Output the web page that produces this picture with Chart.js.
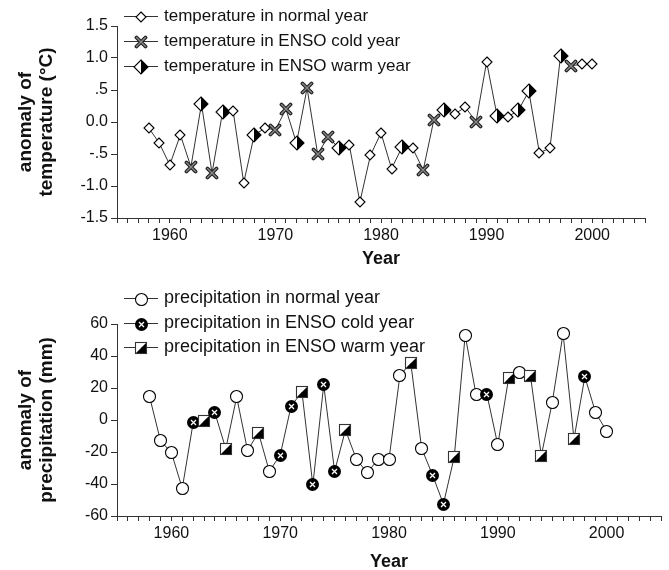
<!DOCTYPE html>
<html>
<head>
<meta charset="utf-8">
<script src="https://cdn.jsdelivr.net/npm/chart.js@4.4.0/dist/chart.umd.min.js"></script>
<style>
  body { margin: 0; background: #fff; }
  canvas { display: block; }
</style>
</head>
<body>
<canvas id="tempChart" width="669" height="270"></canvas>
<canvas id="precChart" width="669" height="300"></canvas>
<script>
// years and ENSO class of each year: n = normal, c = ENSO cold, w = ENSO warm
let years = [1958, 1959, 1960, 1961, 1962, 1963, 1964, 1965, 1966, 1967,
             1968, 1969, 1970, 1971, 1972, 1973, 1974, 1975, 1976, 1977,
             1978, 1979, 1980, 1981, 1982, 1983, 1984, 1985, 1986, 1987,
             1988, 1989, 1990, 1991, 1992, 1993, 1994, 1995, 1996, 1997,
             1998, 1999, 2000];
let ensoType = ['n', 'n', 'n', 'n', 'c', 'w', 'c', 'w', 'n', 'n',
                'w', 'n', 'c', 'c', 'w', 'c', 'c', 'c', 'w', 'n',
                'n', 'n', 'n', 'n', 'w', 'n', 'c', 'c', 'w', 'n',
                'n', 'c', 'n', 'w', 'n', 'w', 'w', 'n', 'n', 'w',
                'c', 'n', 'n'];

// temperature anomaly (°C)
let tempAnomaly = [-0.09, -0.33, -0.67, -0.20, -0.70, 0.28, -0.80, 0.16, 0.17, -0.95,
                   -0.20, -0.10, -0.12, 0.20, -0.33, 0.53, -0.50, -0.23, -0.41, -0.36,
                   -1.25, -0.52, -0.17, -0.73, -0.39, -0.41, -0.75, 0.03, 0.19, 0.13,
                   0.23, 0.00, 0.94, 0.09, 0.08, 0.18, 0.48, -0.48, -0.41, 1.03,
                   0.88, 0.90, 0.90];

// precipitation anomaly (mm)
let precAnomaly = [14.4, -13, -20.4, -42.7, -1.7, -0.6, 4.4, -18, 14.4, -19,
                   -8, -32, -22, 8.7, 17.5, -40.6, 21.9, -32, -6.3, -24.5,
                   -33, -24.5, -24.5, 27.7, 35.8, -17.7, -34.4, -52.5, -23, 53,
                   16, 16, -15.6, 26.5, 30, 27.7, -22.3, 10.8, 54, -11.9,
                   27, 4.4, -6.9];

let tempTicks = { '1.5': '1.5', '1': '1.0', '0.5': '.5', '0': '0.0', '-0.5': '-.5', '-1': '-1.0', '-1.5': '-1.5' };

let tempLegend = ['temperature in normal year', 'temperature in ENSO cold year', 'temperature in ENSO warm year'];
let precLegend = ['precipitation in normal year', 'precipitation in ENSO cold year', 'precipitation in ENSO warm year'];

Chart.defaults.font.family = '"Liberation Sans", Arial, sans-serif';
Chart.defaults.color = '#111';

function makeMarker(size, draw) {
    let c = document.createElement('canvas');
    c.width = size;
    c.height = size;
    let g = c.getContext('2d');
    draw(g, size / 2);
    return c;
}

// temperature markers
let diamondOpen = makeMarker(12, (g, m) => {
    g.beginPath();
    g.moveTo(m, m - 5); g.lineTo(m + 5, m); g.lineTo(m, m + 5); g.lineTo(m - 5, m); g.closePath();
    g.fillStyle = '#fff'; g.fill();
    g.strokeStyle = '#000'; g.lineWidth = 1.1; g.stroke();
});
let crossMark = makeMarker(14, (g, m) => {
    g.lineCap = 'round';
    g.beginPath();
    g.moveTo(m - 4.5, m - 4.5); g.lineTo(m + 4.5, m + 4.5);
    g.moveTo(m + 4.5, m - 4.5); g.lineTo(m - 4.5, m + 4.5);
    g.strokeStyle = '#222'; g.lineWidth = 3.8; g.stroke();
    g.strokeStyle = '#8a8a8a'; g.lineWidth = 1.4; g.stroke();
});
let diamondHalf = makeMarker(16, (g, m) => {
    let r = 7;
    g.beginPath();
    g.moveTo(m, m - r); g.lineTo(m, m + r); g.lineTo(m - r, m); g.closePath();
    g.fillStyle = '#fff'; g.fill();
    g.beginPath();
    g.moveTo(m, m - r); g.lineTo(m + r, m); g.lineTo(m, m + r); g.closePath();
    g.fillStyle = '#000'; g.fill();
    g.beginPath();
    g.moveTo(m, m - r); g.lineTo(m + r, m); g.lineTo(m, m + r); g.lineTo(m - r, m); g.closePath();
    g.strokeStyle = '#000'; g.lineWidth = 1.1; g.stroke();
});

// precipitation markers
let circleOpen = makeMarker(15, (g, m) => {
    g.beginPath(); g.arc(m, m, 6, 0, Math.PI * 2);
    g.fillStyle = '#fff'; g.fill();
    g.strokeStyle = '#000'; g.lineWidth = 1.1; g.stroke();
});
let circleCold = makeMarker(15, (g, m) => {
    g.beginPath(); g.arc(m, m, 6.5, 0, Math.PI * 2);
    g.fillStyle = '#000'; g.fill();
    g.beginPath();
    g.moveTo(m - 2.5, m - 2.5); g.lineTo(m + 2.5, m + 2.5);
    g.moveTo(m + 2.5, m - 2.5); g.lineTo(m - 2.5, m + 2.5);
    g.strokeStyle = '#fff'; g.lineWidth = 1.3; g.stroke();
});
let squareHalf = makeMarker(14, (g, m) => {
    let a = m - 5.5, b = m + 5.5;
    g.beginPath(); g.moveTo(a, a); g.lineTo(b, a); g.lineTo(a, b); g.closePath();
    g.fillStyle = '#fff'; g.fill();
    g.beginPath(); g.moveTo(b, a); g.lineTo(b, b); g.lineTo(a, b); g.closePath();
    g.fillStyle = '#000'; g.fill();
    g.strokeStyle = '#333'; g.lineWidth = 1.1; g.strokeRect(a, a, 11, 11);
});

let tempMarkers = { n: diamondOpen, c: crossMark, w: diamondHalf };
let precMarkers = { n: circleOpen, c: circleCold, w: squareHalf };

// keep marker images crisp when they land on fractional pixel positions
let crispMarkers = {
    id: 'crispMarkers',
    beforeDatasetsDraw(chart) { chart.ctx.imageSmoothingEnabled = false; },
    afterDatasetsDraw(chart) { chart.ctx.imageSmoothingEnabled = true; }
};

function legendPlugin(labels, markers, rowsY, fontSize) {
    return {
        id: 'customLegend',
        afterDraw(chart) {
            let ctx = chart.ctx;
            ctx.save();
            labels.forEach((text, i) => {
                let y = rowsY[i];
                ctx.strokeStyle = '#333';
                ctx.lineWidth = 1;
                ctx.beginPath();
                ctx.moveTo(124, y + 0.5);
                ctx.lineTo(158, y + 0.5);
                ctx.stroke();
                let mk = markers[i];
                ctx.drawImage(mk, Math.round(141 - mk.width / 2), Math.round(y - mk.height / 2) + 1);
                ctx.fillStyle = '#111';
                ctx.font = fontSize + 'px "Liberation Sans", Arial, sans-serif';
                ctx.textAlign = 'left';
                ctx.textBaseline = 'middle';
                ctx.fillText(text, 164, y);
            });
            ctx.restore();
        }
    };
}

function buildChart(id, values, markers, opts) {
    let ctx = document.getElementById(id).getContext('2d');
    return new Chart(ctx, {
        type: 'line',
        data: {
            datasets: [{
                data: years.map((yr, i) => ({ x: yr, y: values[i] })),
                borderColor: '#333',
                borderWidth: 1,
                tension: 0,
                pointStyle: ensoType.map(t => markers[t]),
                pointRadius: 5,
                pointHoverRadius: 5,
                clip: false
            }]
        },
        options: {
            responsive: false,
            animation: false,
            devicePixelRatio: 1,
            layout: { padding: opts.padding },
            plugins: { legend: { display: false }, tooltip: { enabled: false } },
            scales: {
                x: {
                    type: 'linear',
                    min: 1955,
                    max: 2005,
                    afterBuildTicks: (scale) => {
                        let t = [];
                        for (let v = 1955; v <= 2005; v++) t.push({ value: v });
                        scale.ticks = t;
                    },
                    afterFit: (scale) => { scale.height = opts.xHeight; },
                    border: { display: true, color: '#333', width: 1 },
                    grid: { drawOnChartArea: false, drawTicks: true, tickLength: 5, tickColor: '#333' },
                    ticks: {
                        autoSkip: false,
                        maxRotation: 0,
                        padding: 3,
                        font: { size: 16 },
                        callback: (v) => (v % 10 === 0 && v >= 1960 && v <= 2000) ? String(v) : ''
                    },
                    title: {
                        display: true,
                        text: 'Year',
                        font: { size: 18, weight: 'bold' },
                        padding: { top: 0, bottom: opts.xTitlePad }
                    }
                },
                y: {
                    min: opts.yMin,
                    max: opts.yMax,
                    afterFit: (scale) => { scale.width = 117; },
                    border: { display: true, color: '#333', width: 1 },
                    grid: { drawOnChartArea: false, drawTicks: true, tickLength: 6, tickColor: '#333' },
                    ticks: {
                        stepSize: opts.yStep,
                        padding: 3,
                        font: { size: 16 },
                        callback: opts.yLabel
                    },
                    title: {
                        display: true,
                        text: opts.yTitle,
                        font: { size: 19, weight: 'bold', lineHeight: 1.07 },
                        padding: { top: 16, bottom: 0 }
                    }
                }
            }
        },
        plugins: [crispMarkers, opts.legend]
    });
}

buildChart('tempChart', tempAnomaly, tempMarkers, {
    padding: { top: 26, right: 24, left: 0, bottom: 0 },
    xHeight: 52,
    xTitlePad: 0,
    yMin: -1.5, yMax: 1.5, yStep: 0.5,
    yLabel: (v) => tempTicks[String(v)],
    yTitle: ['anomaly of', 'temperature (°C)'],
    legend: legendPlugin(tempLegend, [diamondOpen, crossMark, diamondHalf], [16, 41, 66], 17)
});

buildChart('precChart', precAnomaly, precMarkers, {
    padding: { top: 54, right: 8, left: 0, bottom: 0 },
    xHeight: 54,
    xTitlePad: -3,
    yMin: -60, yMax: 60, yStep: 20,
    yLabel: (v) => String(v),
    yTitle: ['anomaly of', 'precipitation (mm)'],
    legend: legendPlugin(precLegend, [circleOpen, circleCold, squareHalf], [28, 53, 77], 18)
});
</script>
</body>
</html>
